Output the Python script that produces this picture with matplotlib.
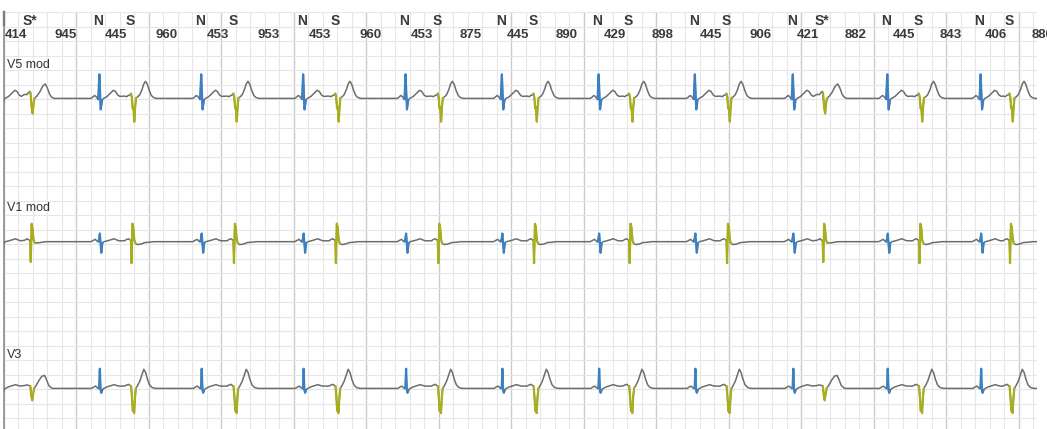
import numpy as np
import matplotlib
matplotlib.use("Agg")
import matplotlib.pyplot as plt

plt.rcParams['font.family'] = ['Liberation Sans', 'DejaVu Sans']

# beat annotations and RR intervals (ms); first and last beat fall just outside the strip
beat_labels = ["N", "S*", "N", "S", "N", "S", "N", "S", "N", "S", "N", "S",
               "N", "S", "N", "S", "N", "S*", "N", "S", "N", "S", "N"]
rr_ms = [414, 945, 445, 960, 453, 953, 453, 960, 453, 875, 445, 890,
         429, 898, 445, 906, 421, 882, 445, 843, 406, 880]
first_beat_s = -0.034

leads = ["V5 mod", "V1 mod", "V3"]

# beat shapes: (ms from QRS, mV)
v5_N = [(-120, 0.0), (-95, 0.04), (-70, 0.10), (-50, 0.07), (-30, 0.0),
        (-18, -0.03), (-3, 0.83), (16, -0.38), (34, -0.06),
        (55, 0.0), (100, 0.06), (150, 0.18), (190, 0.28), (220, 0.24), (250, 0.12), (280, 0.07)]
v5_S = [(-100, 0.08), (-70, 0.06), (-45, 0.11), (-25, 0.12),
        (-12, 0.17), (0, 0.04), (12, -0.35), (22, -0.3), (34, -0.8), (46, -0.3), (58, 0.02),
        (80, 0.05), (110, 0.13), (140, 0.3), (165, 0.5), (190, 0.59), (215, 0.48),
        (240, 0.28), (270, 0.1), (300, 0.03), (340, 0.0)]
v5_Sstar = [(-90, 0.14), (-60, 0.13), (-35, 0.2), (-20, 0.24),
            (-8, 0.2), (8, -0.3), (22, -0.52), (36, -0.15), (48, 0.0),
            (80, 0.08), (120, 0.22), (160, 0.42), (195, 0.5), (225, 0.36), (255, 0.15),
            (285, 0.04), (320, 0.0)]

v1_N = [(-120, 0.0), (-90, 0.04), (-60, 0.08), (-35, 0.02),
        (-18, 0.0), (-6, 0.1), (4, 0.28), (14, -0.05), (24, -0.38), (38, -0.05),
        (60, 0.0), (110, 0.03), (160, 0.07), (200, 0.1), (235, 0.06), (270, 0.03)]
v1_S = [(-100, 0.03), (-70, 0.08), (-45, 0.1), (-25, 0.06),
        (-12, 0.04), (-4, -0.74), (8, 0.62), (20, 0.5), (35, 0.05), (50, -0.06),
        (80, -0.1), (130, -0.08), (180, -0.03), (240, -0.02), (300, 0.0)]
v1_Sstar = [(-90, 0.05), (-50, 0.1), (-25, 0.05),
            (-12, 0.03), (-4, -0.7), (8, 0.62), (20, 0.45), (35, 0.05), (50, -0.04),
            (100, -0.04), (200, 0.0)]

v3_N = [(-110, 0.0), (-80, 0.05), (-55, 0.08), (-30, 0.02),
        (-15, 0.0), (-5, 0.05), (4, 0.68), (14, -0.05), (24, -0.15), (38, -0.05),
        (60, 0.0), (110, 0.06), (160, 0.1), (200, 0.13), (235, 0.1), (270, 0.08)]
v3_S = [(-100, 0.08), (-70, 0.12), (-45, 0.14), (-25, 0.1),
        (-10, 0.08), (2, -0.3), (14, -0.78), (24, -0.55), (32, -0.85), (44, -0.3), (56, 0.0),
        (80, 0.1), (110, 0.25), (140, 0.48), (165, 0.66), (190, 0.55), (215, 0.32),
        (245, 0.12), (280, 0.03), (330, 0.0)]
v3_Sstar = [(-90, 0.1), (-55, 0.12), (-25, 0.1),
            (-10, 0.08), (4, -0.25), (16, -0.41), (28, -0.2), (42, 0.0),
            (70, 0.1), (110, 0.28), (150, 0.42), (185, 0.45), (210, 0.32), (245, 0.1),
            (290, 0.0)]

templates = {
    "V5 mod": {"N": v5_N, "S": v5_S, "S*": v5_Sstar},
    "V1 mod": {"N": v1_N, "S": v1_S, "S*": v1_Sstar},
    "V3": {"N": v3_N, "S": v3_S, "S*": v3_Sstar},
}
qrs_window_ms = {"N": (-20, 40), "S": (-15, 60), "S*": (-15, 50)}
beat_colors = {"N": "#3b80c2", "S": "#aaad1c", "S*": "#aaad1c"}

# layout (mV / s)
baselines = [-2.98, -7.92, -12.98]
px_per_s = 72.5
px_per_mv = 29.0
W, H = 1047, 429
ax_left, ax_right, ax_top = 3.5, 1037, 12

fig = plt.figure(figsize=(W / 100, H / 100), dpi=100)
ax = fig.add_axes([ax_left / W, 0, (ax_right - ax_left) / W, (H - ax_top) / H])
xmax = (ax_right - ax_left) / px_per_s
ymin = -(H - ax_top) / px_per_mv
ax.set_xlim(0, xmax)
ax.set_ylim(ymin, 0)

# ECG paper grid
ax.set_xticks(np.arange(0, xmax, 1.0))
ax.set_xticks(np.arange(0, xmax, 0.2), minor=True)
ax.set_yticks([])
ax.set_yticks(np.arange(0, ymin, -0.5), minor=True)
ax.grid(which='minor', color='#e6e6e6', lw=0.8)
ax.grid(which='major', axis='x', color='#cbcbcb', lw=1.0)
ax.tick_params(which='both', length=0, labelbottom=False, labelleft=False)
for s in ['top', 'right', 'bottom']:
    ax.spines[s].set_visible(False)
ax.spines['left'].set_color('#8e8e8e')
ax.spines['left'].set_linewidth(1.2)
ax.set_axisbelow(True)
ax.plot([0, 0], [0, -0.45], color='#1d3456', lw=1.6, clip_on=False)

beat_t = first_beat_s + np.concatenate([[0], np.cumsum(rr_ms) / 1000])

for lead, base in zip(leads, baselines):
    ts, vs = [beat_t[0] - 1.0], [0.0]
    for t, lab in zip(beat_t, beat_labels):
        for dt, v in templates[lead][lab]:
            ts.append(t + dt / 1000)
            vs.append(v)
    ts.append(beat_t[-1] + 1.0)
    vs.append(0.0)
    ax.plot(ts, np.array(vs) + base, color='#6d6d6d', lw=1.1, zorder=3)
    for t, lab in zip(beat_t, beat_labels):
        lo, hi = qrs_window_ms[lab]
        pts = [(t + dt / 1000, v + base) for dt, v in templates[lead][lab] if lo <= dt <= hi]
        qx, qy = zip(*pts)
        ax.plot(qx, qy, color=beat_colors[lab], lw=1.6, zorder=4, solid_capstyle='round')
    ax.text(0.05, base + 1.16, lead, fontsize=9, color='#333333', va='center', ha='left')

# beat labels and RR interval annotations
for t, lab in zip(beat_t, beat_labels):
    if 0 <= t <= xmax:
        ax.text(t - 0.02, -0.3, lab, fontsize=10, fontweight='bold', color='#3a3a3a',
                ha='center', va='center')
for i, rr in enumerate(rr_ms):
    mid = (beat_t[i] + beat_t[i + 1]) / 2
    if mid >= 0:
        ax.text(mid, -0.78, str(rr), fontsize=9.5, fontweight='bold', color='#3a3a3a',
                ha='center', va='center')

fig.savefig('out.png', dpi=100, facecolor='white')
